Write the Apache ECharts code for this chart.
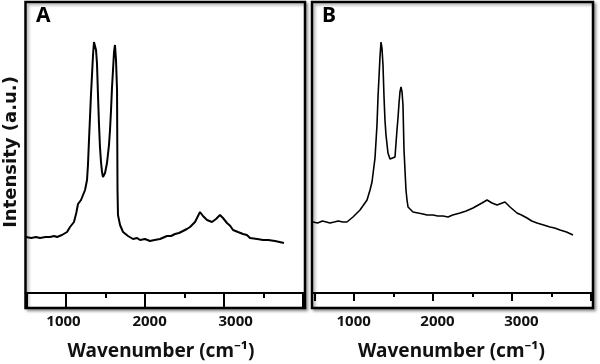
<!DOCTYPE html>
<html>
<head>
<meta charset="utf-8">
<script src="https://cdn.jsdelivr.net/npm/echarts@6/dist/echarts.min.js"></script>
<style>html,body{margin:0;padding:0;background:#fff;}#c{width:600px;height:364px;}</style>
</head>
<body>
<div id="c"></div>
<script>
// Panel A spectrum
const wavenumberA = [494,560,620,671,740,797,850,886,949,1013,1051,1101,1130,1152,1190,1241,1266,1278,1291,1304,1316,1329,1342,1354,1367,1380,1392,1405,1418,1430,1443,1456,1468,1481,1494,1519,1544,1557,1570,1582,1595,1608,1620,1633,1646,1652,1658,1684,1722,1785,1848,1900,1937,2000,2063,2120,2190,2278,2330,2380,2430,2481,2530,2570,2633,2671,2696,2734,2785,2848,2899,2949,2987,3038,3080,3114,3177,3241,3290,3329,3420,3494,3560,3646,3759];
const intensityA  = [56,55,56,55,56,56,57,56,58,61,66,71,80,89,93,103,113,128,153,176,198,218,238,251,253,243,230,198,168,146,131,121,116,116,120,130,148,163,183,205,223,241,248,233,203,103,78,68,61,57,54,55,53,54,52,53,54,57,57,59,60,62,64,66,71,77,81,77,73,71,74,78,75,70,67,63,61,59,58,55,54,53,53,52,50];
// Panel B spectrum
const wavenumberB = [481,540,600,650,696,750,800,860,911,987,1076,1165,1203,1228,1266,1291,1304,1329,1342,1354,1367,1380,1392,1405,1430,1456,1481,1519,1544,1557,1570,1582,1595,1608,1620,1633,1658,1671,1684,1747,1810,1873,1924,2000,2060,2127,2190,2250,2342,2420,2506,2620,2684,2747,2810,2911,2975,3063,3120,3190,3250,3316,3400,3481,3540,3608,3690,3772];
const intensityB  = [71,70,72,71,70,71,72,71,71,76,83,93,103,111,135,168,196,236,251,245,228,196,173,158,140,134,133,136,163,175,190,201,206,201,188,143,103,93,86,81,80,79,78,78,77,77,76,78,80,82,85,90,93,90,88,91,86,80,78,75,72,70,68,66,65,63,61,58];

const majorTicks = [500,1000,2000,3000,4000];
const minorTicks = [1500,2500,3500];
const tickLabels = [1000,2000,3000];
const panelLabels = ['A','B'];
const yTitle = 'Intensity (a.u.)';
const xTitle = 'Wavenumber (cm⁻¹)';

const FONT = '"Noto Sans", sans-serif';
const chart = echarts.init(document.getElementById('c'));

function zip(xs, ys){ return xs.map((x,i)=>[x, ys[i]]); }

const gridCommon = {show:true, borderColor:'#000', borderWidth:2.5, backgroundColor:'#fff',
  shadowColor:'rgba(0,0,0,0.35)', shadowBlur:3, shadowOffsetX:2, shadowOffsetY:2};

function axesFor(gi, min, max, lmin, lmax, majLen, minLen){
  return [
    {type:'value', gridIndex:gi, min:min, max:max, position:'bottom', offset:-15,
     axisLine:{show:true, lineStyle:{color:'#000', width:2}},
     axisTick:{show:true, inside:false, length:majLen, customValues:majorTicks, lineStyle:{color:'#000', width:2}},
     axisLabel:{show:false}, splitLine:{show:false}},
    {type:'value', gridIndex:gi, min:min, max:max, position:'bottom', offset:-15,
     axisLine:{show:false},
     axisTick:{show:true, inside:false, length:minLen, customValues:minorTicks, lineStyle:{color:'#000', width:2}},
     axisLabel:{show:false}, splitLine:{show:false}},
    {type:'value', gridIndex:gi, min:lmin, max:lmax, position:'bottom', offset:-15,
     axisLine:{show:false}, axisTick:{show:false},
     axisLabel:{show:true, customValues:tickLabels, formatter:(v)=>String(v), margin:21, color:'#111', fontFamily:FONT, fontWeight:'bold', fontSize:15},
     splitLine:{show:false}}
  ];
}

const option = {
  animation:false,
  backgroundColor:'#fff',
  grid:[
    Object.assign({left:25.5, top:2, width:279.5, height:306}, gridCommon),
    Object.assign({left:312, top:2, width:281, height:306}, gridCommon)
  ],
  xAxis: [].concat(
    axesFor(0, 487.3, 4025.3, 559, 3805, 15, 5),
    axesFor(1, 468.4, 4025.3, 503, 3854, 8, 4)
  ),
  yAxis:[
    {type:'value', gridIndex:0, min:-15, max:291, show:false, splitLine:{show:false}},
    {type:'value', gridIndex:1, min:-15, max:291, show:false, splitLine:{show:false}}
  ],
  series:[
    {type:'line', xAxisIndex:0, yAxisIndex:0, data:zip(wavenumberA,intensityA), showSymbol:false,
     lineStyle:{color:'#000', width:2}, z:5},
    {type:'line', xAxisIndex:3, yAxisIndex:1, data:zip(wavenumberB,intensityB), showSymbol:false,
     lineStyle:{color:'#000', width:1.6}, z:5}
  ],
  graphic:[
    {type:'text', left:36, top:6, style:{text:panelLabels[0], font:'bold 21px '+FONT, fill:'#000'}, z:10},
    {type:'text', left:322, top:6, style:{text:panelLabels[1], font:'bold 21px '+FONT, fill:'#000'}, z:10},
    {type:'text', x:161, y:352, style:{text:xTitle, font:'bold 19px '+FONT, fill:'#111', align:'center', verticalAlign:'middle'}, z:10},
    {type:'text', x:451.5, y:352, style:{text:xTitle, font:'bold 19px '+FONT, fill:'#111', align:'center', verticalAlign:'middle'}, z:10},
    {type:'text', x:11, y:152, rotation:Math.PI/2, style:{text:yTitle, font:'bold 18px "DejaVu Sans", sans-serif', fill:'#111', align:'center', verticalAlign:'middle'}, z:10}
  ]
};
chart.setOption(option);
</script>
</body>
</html>
